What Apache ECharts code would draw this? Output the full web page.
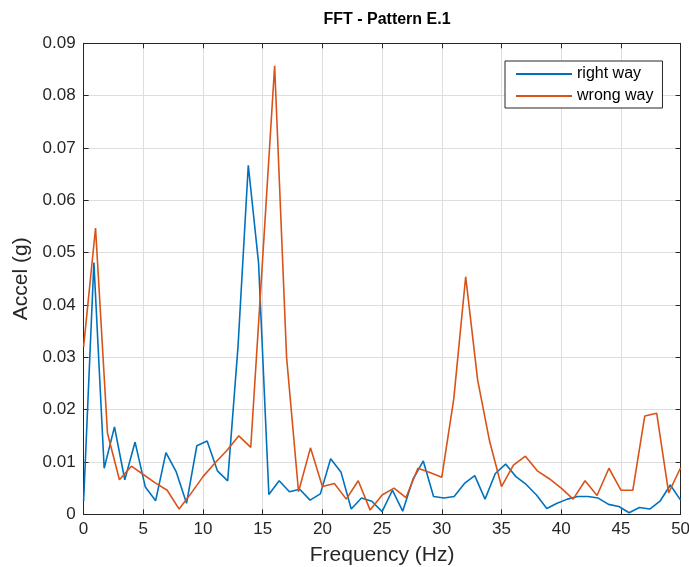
<!DOCTYPE html>
<html>
<head>
<meta charset="utf-8">
<script src="https://cdn.jsdelivr.net/npm/echarts@6/dist/echarts.min.js"></script>
<style>
html,body{margin:0;padding:0;background:#fff;}
#chart{width:689px;height:567px;}
</style>
</head>
<body>
<div id="chart"></div>
<script>
// Blue series ("right way") frequency bins (Hz)
var rightFreq = [0, 0.862, 1.724, 2.586, 3.448, 4.31, 5.172, 6.034, 6.897, 7.759,
  8.621, 9.483, 10.345, 11.207, 12.069, 12.931, 13.793, 14.655, 15.517, 16.379,
  17.241, 18.103, 18.966, 19.828, 20.69, 21.552, 22.414, 23.276, 24.138, 25.0,
  25.862, 26.724, 27.586, 28.448, 29.31, 30.172, 31.034, 31.897, 32.759, 33.621,
  34.483, 35.345, 36.207, 37.069, 37.931, 38.793, 39.655, 40.517, 41.379, 42.241,
  43.103, 43.966, 44.828, 45.69, 46.552, 47.414, 48.276, 49.138, 50.0];
var rightVal = [0.0025, 0.0481, 0.0088, 0.0167, 0.0066, 0.0138, 0.0052, 0.0026, 0.0118, 0.0081,
  0.0021, 0.0131, 0.0140, 0.0083, 0.0064, 0.0320, 0.0667, 0.0480, 0.0038, 0.0064,
  0.0043, 0.0048, 0.0027, 0.0039, 0.0106, 0.0081, 0.0010, 0.0031, 0.0025, 0.0005,
  0.0046, 0.0006, 0.0067, 0.0102, 0.0034, 0.0031, 0.0034, 0.0059, 0.0074, 0.0029,
  0.0078, 0.0096, 0.0072, 0.0057, 0.0037, 0.0011, 0.0021, 0.0029, 0.0034, 0.0034,
  0.0031, 0.0019, 0.0015, 0.0003, 0.0013, 0.0010, 0.0025, 0.0056, 0.0027];

// Orange series ("wrong way") frequency bins (Hz)
var wrongFreq = [0,1,2,3,4,5,6,7,8,9,10,11,12,13,14,15,16,17,18,19,20,21,22,23,24,25,
  26,27,28,29,30,31,32,33,34,35,36,37,38,39,40,41,42,43,44,45,46,47,48,49,50];
var wrongVal = [0.0320, 0.0547, 0.0155, 0.0066, 0.0092, 0.0076, 0.0060, 0.0046, 0.0010, 0.0040,
  0.0072, 0.0098, 0.0122, 0.0150, 0.0128, 0.0490, 0.0857, 0.0300, 0.0043, 0.0127,
  0.0053, 0.0059, 0.0029, 0.0064, 0.0008, 0.0037, 0.0050, 0.0032, 0.0088, 0.0080,
  0.0071, 0.0220, 0.0454, 0.0257, 0.0140, 0.0053, 0.0094, 0.0111, 0.0083, 0.0068,
  0.0050, 0.0029, 0.0064, 0.0036, 0.0088, 0.0046, 0.0046, 0.0188, 0.0193, 0.0041,
  0.0089];

var seriesNames = ['right way', 'wrong way'];
var titleText = 'FFT - Pattern E.1';
var xName = 'Frequency (Hz)';
var yName = 'Accel (g)';

function pairs(xs, ys) {
  var out = [];
  for (var i = 0; i < xs.length; i++) out.push([xs[i], ys[i]]);
  return out;
}

var FONT = '"Liberation Sans", Arial, Helvetica, sans-serif';
var AX = '#262626';
var GRIDC = '#dedede';

var chart = echarts.init(document.getElementById('chart'), null, {renderer: 'canvas'});
chart.setOption({
  backgroundColor: '#ffffff',
  animation: false,
  title: {
    text: titleText,
    left: 382, top: 7,
    textAlign: 'center',
    textStyle: {fontFamily: FONT, fontSize: 16, fontWeight: 'bold', color: '#000'}
  },
  legend: {
    data: seriesNames,
    orient: 'vertical',
    left: 505, top: 61,
    padding: [5, 9, 4, 11],
    itemGap: 6,
    itemWidth: 56, itemHeight: 2,
    icon: 'rect',
    backgroundColor: '#fff',
    borderColor: AX, borderWidth: 1,
    textStyle: {fontFamily: FONT, fontSize: 16, color: '#000', lineHeight: 16}
  },
  grid: {left: 83.6, right: 8.4, top: 43.3, bottom: 52.7, containLabel: false, outerBoundsMode: 'none'},
  xAxis: [{
    type: 'value', min: 0, max: 50, interval: 5,
    name: xName, nameLocation: 'middle', nameGap: 30,
    nameTextStyle: {fontFamily: FONT, fontSize: 21, color: AX},
    axisLine: {show: true, onZero: false, lineStyle: {color: AX, width: 1}},
    axisTick: {show: true, inside: true, length: 5, lineStyle: {color: AX}},
    axisLabel: {fontFamily: FONT, fontSize: 17, color: AX, margin: 7},
    splitLine: {show: true, lineStyle: {color: GRIDC, width: 1}}
  }, {
    type: 'value', min: 0, max: 50, interval: 5, position: 'top',
    axisLine: {show: true, onZero: false, lineStyle: {color: AX, width: 1}},
    axisTick: {show: true, inside: true, length: 5, lineStyle: {color: AX}},
    axisLabel: {show: false}, splitLine: {show: false}
  }],
  yAxis: [{
    type: 'value', min: 0, max: 0.09, interval: 0.01,
    name: yName, nameLocation: 'middle', nameGap: 46,
    nameTextStyle: {fontFamily: FONT, fontSize: 21, color: AX},
    axisLine: {show: true, onZero: false, lineStyle: {color: AX, width: 1}},
    axisTick: {show: true, inside: true, length: 5, lineStyle: {color: AX}},
    axisLabel: {fontFamily: FONT, fontSize: 17, color: AX, margin: 8,
      formatter: function (v) { return Math.abs(v) < 1e-9 ? '0' : v.toFixed(2); }},
    splitLine: {show: true, lineStyle: {color: GRIDC, width: 1}}
  }, {
    type: 'value', min: 0, max: 0.09, interval: 0.01, position: 'right',
    axisLine: {show: true, onZero: false, lineStyle: {color: AX, width: 1}},
    axisTick: {show: true, inside: true, length: 5, lineStyle: {color: AX}},
    axisLabel: {show: false}, splitLine: {show: false}
  }],
  series: [{
    name: seriesNames[0], type: 'line',
    data: pairs(rightFreq, rightVal),
    showSymbol: false, symbol: 'none',
    color: '#0072BD',
    lineStyle: {color: '#0072BD', width: 1.6}
  }, {
    name: seriesNames[1], type: 'line',
    data: pairs(wrongFreq, wrongVal),
    showSymbol: false, symbol: 'none',
    color: '#D95319',
    lineStyle: {color: '#D95319', width: 1.6}
  }]
});
</script>
</body>
</html>
